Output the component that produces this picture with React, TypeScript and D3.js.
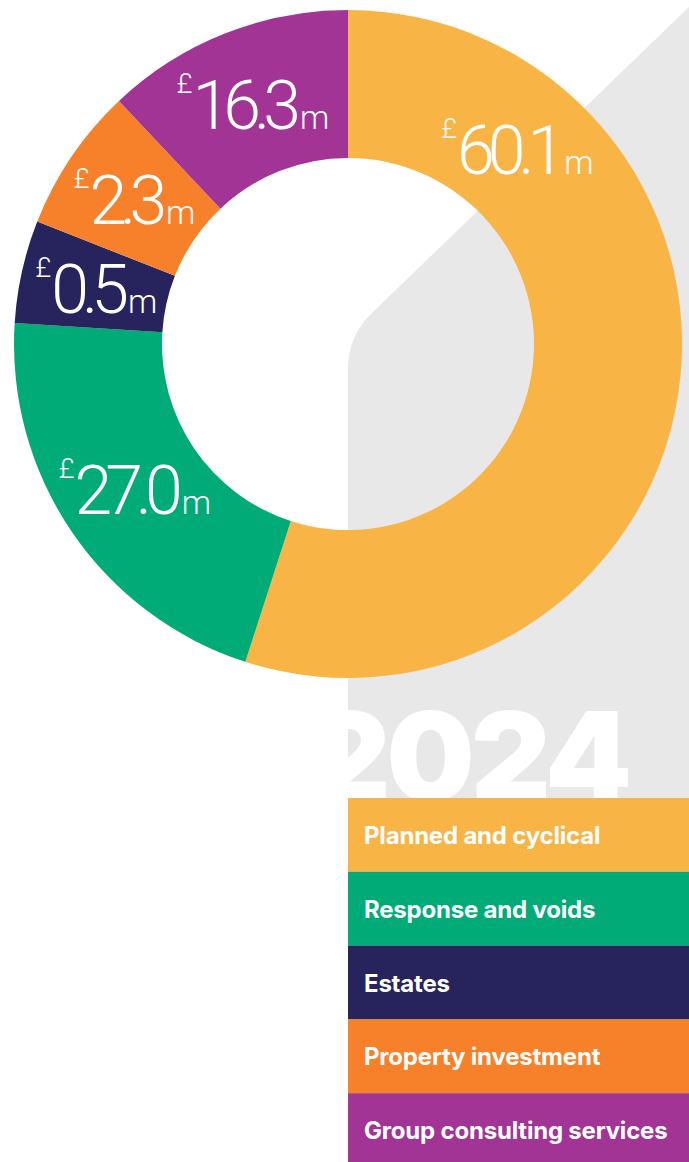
import React from "react";
import * as d3 from "d3";

// Data
const categories = [
  "Planned and cyclical",
  "Response and voids",
  "Estates",
  "Property investment",
  "Group consulting services",
];
const valuesGBPm = [60.1, 27.0, 0.5, 2.3, 16.3];
// Angular share of each slice as drawn in the reference (degrees)
const sliceShare = [197.9, 75.7, 17.9, 25.2, 43.3];
const colors = ["#F9B446", "#00AB77", "#27235C", "#F6812A", "#A13494"];
const yearLabel = "2024";

const W = 689;
const H = 1162;
const cx = 348;
const cy = 344;
const outerR = 334;
const innerR = 186;
const labelR = 258;
const legendTop = 798;
const legendRow = 73.8;

export default function App() {
  const pie = d3
    .pie<number>()
    .sort(null)
    .value((d) => d);
  const arcs = pie(sliceShare);
  const arcGen = d3.arc<d3.PieArcDatum<number>>().innerRadius(innerR).outerRadius(outerR);
  const labelArc = d3.arc().innerRadius(labelR).outerRadius(labelR);
  const maxOffset = (41 * Math.PI) / 180;

  const band = d3
    .scaleBand<string>()
    .domain(categories)
    .range([legendTop, legendTop + legendRow * categories.length])
    .padding(0);

  // gray backdrop
  const p = d3.path();
  p.moveTo(W, 7);
  p.arcTo(348, 336, 348, H, 75);
  p.lineTo(348, H);
  p.lineTo(W, H);
  p.closePath();

  return (
    <svg
      width={W}
      height={H}
      style={{ position: "absolute", left: 0, top: 0, display: "block" }}
    >
      <defs>
        <clipPath id="yearClip">
          <rect x={348} y={600} width={W - 348} height={legendTop - 600} />
        </clipPath>
      </defs>
      <rect x={0} y={0} width={W} height={H} fill="#ffffff" />
      <path d={p.toString()} fill="#E8E8E8" />
      <g transform={`translate(${cx},${cy})`}>
        {arcs.map((a, i) => (
          <path key={i} d={arcGen(a) as string} fill={colors[i]} />
        ))}
        {arcs.map((a, i) => {
          const ang = Math.min((a.startAngle + a.endAngle) / 2, a.startAngle + maxOffset);
          const [lx, ly] = labelArc.centroid({
            startAngle: ang,
            endAngle: ang,
            innerRadius: labelR,
            outerRadius: labelR,
          } as any);
          const num = valuesGBPm[i].toFixed(1);
          return (
            <text
              key={i}
              x={lx}
              y={ly + 25}
              textAnchor="middle"
              fill="#ffffff"
              fontFamily="Roboto, 'Open Sans', sans-serif"
              fontWeight={300}
            >
              <tspan fontSize={28} dy={-36}>£</tspan>
              <tspan fontSize={68} dy={36} letterSpacing={-7}>{num}</tspan>
              <tspan fontSize={33} dx={6}>m</tspan>
            </text>
          );
        })}
      </g>
      <g clipPath="url(#yearClip)">
        <text
          x={628}
          y={801}
          textAnchor="end"
          fill="#ffffff"
          fontFamily="Inter, 'Open Sans', sans-serif"
          fontWeight={900}
          fontSize={124}
          letterSpacing={-4}
        >
          {yearLabel}
        </text>
      </g>
      {categories.map((c, i) => (
        <g key={c}>
          <rect
            x={348}
            y={band(c)!}
            width={W - 348}
            height={Math.min(band.bandwidth(), H - band(c)!)}
            fill={colors[i]}
          />
          <text
            x={364}
            y={band(c)! + band.bandwidth() / 2 + 9}
            fill="#ffffff"
            fontFamily="Inter, 'Open Sans', sans-serif"
            fontWeight={700}
            fontSize={24}
            letterSpacing={-0.2}
          >
            {c}
          </text>
        </g>
      ))}
    </svg>
  );
}
